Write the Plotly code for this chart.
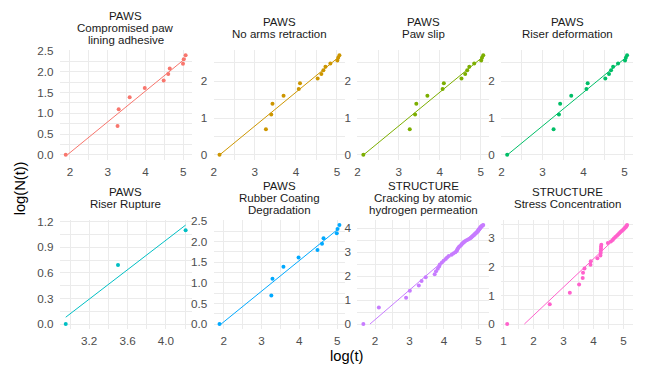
import numpy as np
import plotly.graph_objects as go
from plotly.subplots import make_subplots

# ---------------- data ----------------
groups = ["PAWS", "PAWS", "PAWS", "PAWS", "PAWS", "PAWS", "STRUCTURE", "STRUCTURE"]
modes = [
    ["Compromised paw", "lining adhesive"],
    ["No arms retraction"],
    ["Paw slip"],
    ["Riser deformation"],
    ["Riser Rupture"],
    ["Rubber Coating", "Degradation"],
    ["Cracking by atomic", "hydrogen permeation"],
    ["Stress Concentration"],
]
colors = ["#F8766D", "#CD9600", "#7CAE00", "#00BE67", "#00BFC4", "#00A9FF", "#C77CFF", "#FF61CC"]

# log(t) of successive failure times (cumulative failure count N = 1, 2, ...)
logt_compromised = [1.89, 3.26, 3.29, 3.58, 3.98, 4.48, 4.60, 4.64, 4.99, 5.01, 5.06]
logt_no_arms = [2.14, 3.27, 3.40, 3.43, 3.70, 4.07, 4.10, 4.53, 4.62, 4.67, 4.72, 4.84, 5.01, 5.03, 5.06]
logt_paw_slip = [2.14, 3.27, 3.40, 3.43, 3.70, 4.07, 4.10, 4.53, 4.62, 4.67, 4.72, 4.84, 5.01, 5.03, 5.06]
logt_riser_def = [2.14, 3.27, 3.40, 3.43, 3.70, 4.07, 4.10, 4.53, 4.62, 4.67, 4.72, 4.84, 5.01, 5.03, 5.06]
logt_riser_rup = [2.955, 3.50, 4.205]
logt_rubber = [1.89, 3.26, 3.29, 3.58, 3.98, 4.48, 4.60, 4.64, 4.99, 5.01, 5.06]
logt_cracking = [1.66, 2.11, 2.90, 3.01, 3.27, 3.35, 3.47, 3.73, 3.77, 3.82,
                 3.86, 3.88, 3.94, 3.99, 4.05, 4.09, 4.14, 4.22, 4.27, 4.33,
                 4.37, 4.38, 4.40, 4.42, 4.44, 4.47, 4.50, 4.52, 4.54, 4.57,
                 4.59, 4.62, 4.66, 4.70, 4.74, 4.77, 4.79, 4.81, 4.83, 4.85,
                 4.87, 4.89, 4.90, 4.92, 4.94, 4.95, 4.97, 4.98, 4.99, 5.00,
                 5.01, 5.02, 5.03, 5.04, 5.05, 5.06, 5.07, 5.08, 5.09, 5.11,
                 5.12, 5.14]
logt_stress = [1.12, 2.54, 3.21, 3.52, 3.64, 3.65, 3.70, 3.90, 3.91, 4.13,
               4.23, 4.24, 4.24, 4.25, 4.25, 4.26, 4.48, 4.58, 4.64, 4.68,
               4.73, 4.78, 4.82, 4.86, 4.90, 4.94, 4.98, 5.02, 5.05, 5.08,
               5.10, 5.12]
series = [logt_compromised, logt_no_arms, logt_paw_slip, logt_riser_def,
          logt_riser_rup, logt_rubber, logt_cracking, logt_stress]

# tick labels per panel
x_ticks = [[2, 3, 4, 5], [2, 3, 4, 5], [2, 3, 4, 5], [2, 3, 4, 5],
           [3.2, 3.6, 4.0], [2, 3, 4, 5], [2, 3, 4, 5], [1, 2, 3, 4, 5]]
x_ticktext = [["2", "3", "4", "5"]] * 4 + [["3.2", "3.6", "4.0"]] + [["2", "3", "4", "5"]] * 2 + [["1", "2", "3", "4", "5"]]
y_ticks = [[0, 0.5, 1, 1.5, 2, 2.5], [0, 1, 2], [0, 1, 2], [0, 1, 2],
           [0, 0.3, 0.6, 0.9, 1.2], [0, 0.5, 1, 1.5, 2, 2.5], [0, 1, 2, 3, 4], [0, 1, 2, 3]]
y_ticktext = [["0.0", "0.5", "1.0", "1.5", "2.0", "2.5"], ["0", "1", "2"], ["0", "1", "2"], ["0", "1", "2"],
              ["0.0", "0.3", "0.6", "0.9", "1.2"], ["0.0", "0.5", "1.0", "1.5", "2.0", "2.5"],
              ["0", "1", "2", "3", "4"], ["0", "1", "2", "3"]]

# ---------------- figure ----------------
W, H = 649, 365
FONT = "Liberation Sans, Arial, Helvetica, sans-serif"
GRID = "#EBEBEB"

fig = make_subplots(rows=2, cols=4)

col_px = [(57, 189.5), (211.5, 344), (356, 488.5), (500.5, 633)]
row_px = [(45.2, 156.8), (218.3, 329.3)]
strip_center = [22.8, 196.0]
line_gap = 12.2


def minor_vals(t):
    step = t[1] - t[0]
    vals = [t[0] - step / 2] + [a + step / 2 for a in t]
    return vals


annotations = []
for i, xs in enumerate(series):
    r, c = divmod(i, 4)
    x = np.array(xs, dtype=float)
    y = np.log(np.arange(1, len(x) + 1))
    a, b = np.polyfit(x, y, 1)
    x0 = x.min()
    if a * x0 + b < 0:
        x0 = -b / a
    xl = np.linspace(x0, x.max(), 80)
    yl = a * xl + b

    fig.add_trace(go.Scatter(x=xl, y=yl, mode="lines",
                             line=dict(color=colors[i], width=1),
                             hoverinfo="skip", showlegend=False), row=r + 1, col=c + 1)
    fig.add_trace(go.Scatter(x=x, y=y, mode="markers",
                             marker=dict(color=colors[i], size=4, line=dict(width=0)),
                             showlegend=False), row=r + 1, col=c + 1)

    xmin, xmax = x.min(), x.max()
    dx = xmax - xmin
    ymin = 0.0
    ymax = max(y.max(), yl.max())
    dy = ymax - ymin

    ax_idx = i + 1
    xa = "xaxis" if ax_idx == 1 else f"xaxis{ax_idx}"
    ya = "yaxis" if ax_idx == 1 else f"yaxis{ax_idx}"
    xd = [col_px[c][0] / W, col_px[c][1] / W]
    yd = [1 - row_px[r][1] / H, 1 - row_px[r][0] / H]
    fig.layout[xa].update(
        domain=xd, range=[xmin - 0.05 * dx, xmax + 0.05 * dx],
        tickvals=x_ticks[i], ticktext=x_ticktext[i],
        showgrid=True, gridcolor=GRID, gridwidth=1.1, zeroline=False, showline=False,
        ticks="outside", ticklen=1, tickcolor="rgba(0,0,0,0)",
        tickfont=dict(family=FONT, size=11.7, color="#4D4D4D"),
        minor=dict(tickvals=minor_vals(x_ticks[i]), showgrid=True, gridcolor=GRID, gridwidth=0.55, ticks=""),
    )
    fig.layout[ya].update(
        domain=yd, range=[ymin - 0.05 * dy, ymax + 0.05 * dy],
        tickvals=y_ticks[i], ticktext=y_ticktext[i],
        showgrid=True, gridcolor=GRID, gridwidth=1.1, zeroline=False, showline=False,
        ticks="outside", ticklen=3, tickcolor="rgba(0,0,0,0)",
        tickfont=dict(family=FONT, size=11.7, color="#4D4D4D"),
        minor=dict(tickvals=minor_vals(y_ticks[i]), showgrid=True, gridcolor=GRID, gridwidth=0.55, ticks=""),
    )

    lines = [groups[i]] + modes[i]
    n = len(lines)
    cx = (xd[0] + xd[1]) / 2
    for k, txt in enumerate(lines):
        py = strip_center[r] + (k - (n - 1) / 2) * line_gap
        annotations.append(dict(text=txt, x=cx, y=1 - py / H, xref="paper", yref="paper",
                                xanchor="center", yanchor="middle", showarrow=False,
                                font=dict(family=FONT, size=11.5, color="#1A1A1A")))

annotations.append(dict(text="log(t)", x=345 / W, y=1 - 357 / H, xref="paper", yref="paper",
                        xanchor="center", yanchor="middle", showarrow=False,
                        font=dict(family=FONT, size=14.7, color="#000000")))
annotations.append(dict(text="log(N(t))", x=18 / W, y=1 - 186 / H, xref="paper", yref="paper",
                        xanchor="center", yanchor="middle", showarrow=False, textangle=-90,
                        font=dict(family=FONT, size=14.7, color="#000000")))

fig.update_layout(
    width=W, height=H, margin=dict(l=0, r=0, t=0, b=0),
    paper_bgcolor="white", plot_bgcolor="white",
    annotations=annotations, showlegend=False,
)

fig.write_html("out.html")
